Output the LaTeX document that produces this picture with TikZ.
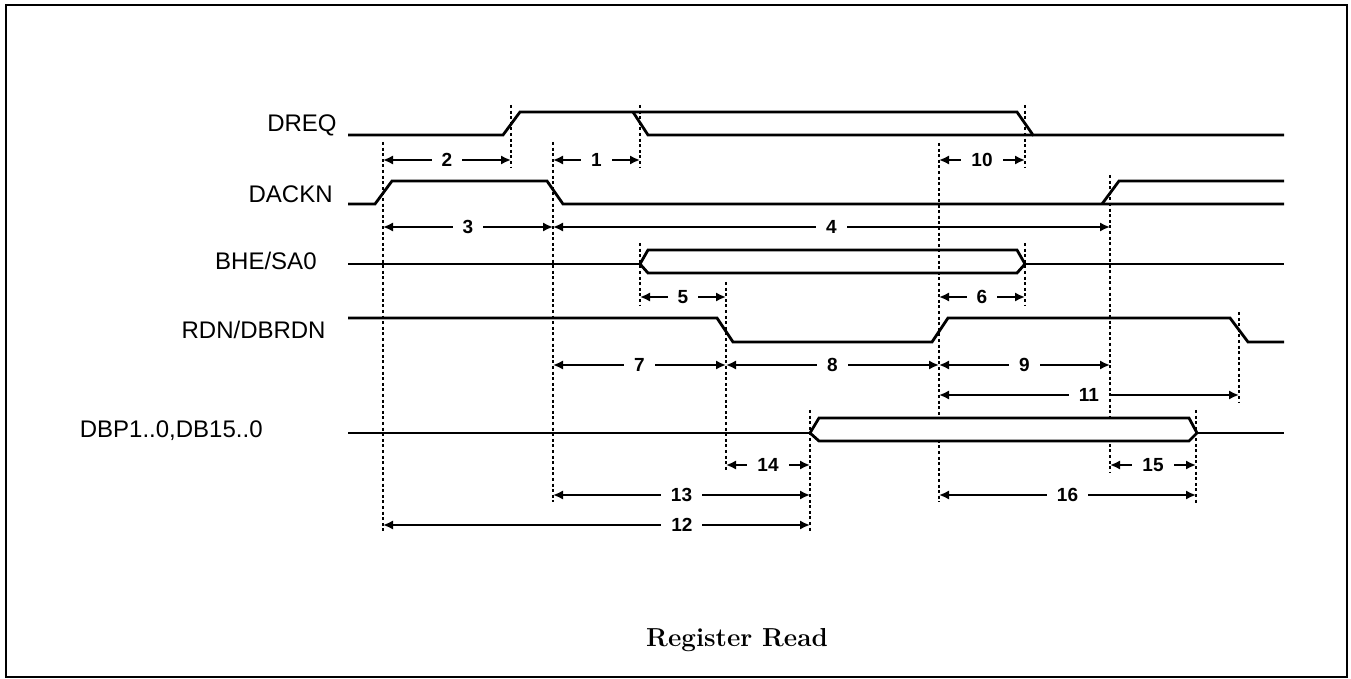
\documentclass[tikz,border=0pt]{standalone}
\usepackage{fontspec}
\setsansfont{Liberation Sans}
\usetikzlibrary{arrows.meta}
\tikzset{
  sig/.style={line width=1.4pt},
  guide/.style={line width=1.3pt, dash pattern=on 1.5pt off 1.3pt},
  dim/.style={line width=1.1pt, <->, >={Latex[length=5pt,width=4.6pt]}},
  num/.style={midway, fill=white, inner xsep=5pt, inner ysep=1pt,
    font=\sffamily\bfseries\fontsize{9.5}{10}\selectfont},
  sname/.style={anchor=base east, inner sep=0pt,
    font=\sffamily\fontsize{12}{14}\selectfont},
}

\begin{document}
\begin{tikzpicture}[x=0.5pt,y=-0.5pt]
    \useasboundingbox (0,0) rectangle (1351,679);
    % Frame
    \draw[line width=1.1pt] (6,5) rectangle (1347,677);
    % Edge times
    \coordinate (dackR) at (383,0);
    \coordinate (dreqR) at (511,0);
    \coordinate (dackF) at (553,0);
    \coordinate (dreqF) at (640,0);
    \coordinate (rdF) at (726,0);
    \coordinate (dbOn) at (810,0);
    \coordinate (rdR) at (939,0);
    \coordinate (dreqE) at (1025,0);
    \coordinate (dackR2) at (1110,0);
    \coordinate (dbOff) at (1196,0);
    \coordinate (rdF2) at (1239,0);
    % Rows of the timing arrows
    \coordinate (r1) at (0,160);
    \coordinate (r2) at (0,227);
    \coordinate (r3) at (0,297);
    \coordinate (r4) at (0,365);
    \coordinate (r5) at (0,395);
    \coordinate (r6) at (0,465);
    \coordinate (r7) at (0,495);
    \coordinate (r8) at (0,525);
    % Dotted guides
    \draw[guide] (dackR |- 0,142) -- (dackR |- 0,533);
    \draw[guide] (dreqR |- 0,105) -- (dreqR |- 0,167);
    \draw[guide] (dackF |- 0,142) -- (dackF |- 0,502);
    \draw[guide] (dreqF |- 0,105) -- (dreqF |- 0,167);
    \draw[guide] (dreqF |- 0,243) -- (dreqF |- 0,305);
    \draw[guide] (rdF |- 0,282) -- (rdF |- 0,472);
    \draw[guide] (dbOn |- 0,410) -- (dbOn |- 0,533);
    \draw[guide] (rdR |- 0,143) -- (rdR |- 0,502);
    \draw[guide] (dreqE |- 0,105) -- (dreqE |- 0,167);
    \draw[guide] (dreqE |- 0,243) -- (dreqE |- 0,305);
    \draw[guide] (dackR2 |- 0,175) -- (dackR2 |- 0,472);
    \draw[guide] (dbOff |- 0,410) -- (dbOff |- 0,503);
    \draw[guide] (rdF2 |- 0,312) -- (rdF2 |- 0,403);
    % Signal names
    \node[sname] (lDREQ) at (337,132) {DREQ};
    \node[sname] (lDACKN) at (333,203) {DACKN};
    \node[sname] (lBHE) at (317,270) {BHE/SA0};
    \node[sname] (lRDN) at (326,339) {RDN/DBRDN};
    \node[sname] (lDBP) at (263,438) {DBP1..0,DB15..0};
    % Waveforms
    \draw[sig] (348,135) -- (503,135) -- (520,112) -- (1017,112)
        -- (1033,135) -- (1284,135);
    \draw[sig] (633,112) -- (648,135) -- (1033,135);
    \draw[sig] (348,204) -- (375,204) -- (392,181) -- (547,181)
        -- (563,204) -- (1284,204);
    \draw[sig] (1102,204) -- (1119,181) -- (1284,181);
    \draw[sig] (348,264) -- (640,264);
    \draw[sig] (640,264) -- (648,250) -- (1017,250) -- (1025,264)
        -- (1017,273) -- (648,273) -- cycle;
    \draw[sig] (1025,264) -- (1284,264);
    \draw[sig] (348,318) -- (717,318) -- (733,342) -- (932,342)
        -- (948,318) -- (1230,318) -- (1248,342) -- (1284,342);
    \draw[sig] (348,433) -- (810,433);
    \draw[sig,fill=white] (810,433) -- (819,418) -- (1189,418) -- (1197,433)
        -- (1189,441) -- (819,441) -- cycle;
    \draw[sig] (1197,433) -- (1284,433);
    % Timing arrows
    \draw[dim] (dackR |- r1) -- (dreqR |- r1) node[num] (n2) {2};
    \draw[dim] (dackF |- r1) -- (dreqF |- r1) node[num] (n1) {1};
    \draw[dim] (rdR |- r1) -- (dreqE |- r1) node[num] (n10) {10};
    \draw[dim] (dackR |- r2) -- (dackF |- r2) node[num] (n3) {3};
    \draw[dim] (dackF |- r2) -- (dackR2 |- r2) node[num] (n4) {4};
    \draw[dim] (dreqF |- r3) -- (rdF |- r3) node[num] (n5) {5};
    \draw[dim] (rdR |- r3) -- (dreqE |- r3) node[num] (n6) {6};
    \draw[dim] (dackF |- r4) -- (rdF |- r4) node[num] (n7) {7};
    \draw[dim] (rdF |- r4) -- (rdR |- r4) node[num] (n8) {8};
    \draw[dim] (rdR |- r4) -- (dackR2 |- r4) node[num] (n9) {9};
    \draw[dim] (rdR |- r5) -- (rdF2 |- r5) node[num] (n11) {11};
    \draw[dim] (rdF |- r6) -- (dbOn |- r6) node[num] (n14) {14};
    \draw[dim] (dackR2 |- r6) -- (dbOff |- r6) node[num] (n15) {15};
    \draw[dim] (dackF |- r7) -- (dbOn |- r7) node[num] (n13) {13};
    \draw[dim] (rdR |- r7) -- (dbOff |- r7) node[num] (n16) {16};
    \draw[dim] (dackR |- r8) -- (dbOn |- r8) node[num,pos=0.7] (n12) {12};
    % Caption
    \node[font=\bfseries\fontsize{13}{15}\selectfont] (title) at (737,640)
        {Register Read};
\end{tikzpicture}
\end{document}
